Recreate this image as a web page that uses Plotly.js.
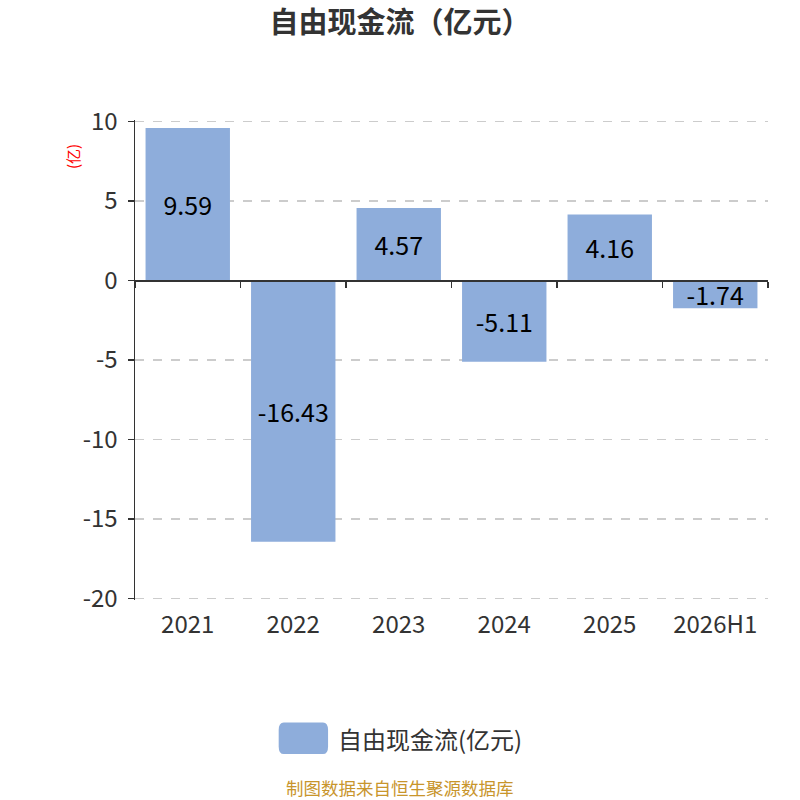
<!DOCTYPE html>
<html>
<head>
<meta charset="utf-8">
<script src="https://cdn.plot.ly/plotly-3.0.1.min.js"></script>
<style>
  html, body { margin: 0; padding: 0; background: white; }
  #chart { width: 800px; height: 800px; }
</style>
</head>
<body>
<div id="chart"></div>
<script>
// data
const categories = ['2021', '2022', '2023', '2024', '2025', '2026H1'];
const freeCashFlow = [9.59, -16.43, 4.57, -5.11, 4.16, -1.74];
const seriesName = '自由现金流(亿元)';
const yTickVals = [-20, -15, -10, -5, 0, 5, 10];
const yTickText = ['-20', '-15', '-10', '-5', '0', '5', '10'];

const barColor = '#8eaddb';
const textColor = '#333333';
const baseFont = '"Noto Sans CJK SC", "Noto Sans", sans-serif';

const bars = {
    x: categories,
    y: freeCashFlow,
    type: 'bar',
    name: seriesName,
    marker: { color: barColor, line: { width: 0 } },
    text: freeCashFlow.map(v => v.toFixed(2)),
    textposition: 'inside',
    insidetextanchor: 'middle',
    constraintext: 'none',
    textfont: { size: 25, color: '#000000', family: baseFont },
    cliponaxis: false,
    showlegend: false,
    hoverinfo: 'x+y'
};

// same bars again on a second x axis that sits on the zero line (for its ticks)
const zeroAxisBars = {
    x: categories,
    y: freeCashFlow,
    type: 'bar',
    xaxis: 'x2',
    marker: { color: 'rgba(0,0,0,0)' },
    showlegend: false,
    hoverinfo: 'skip'
};

const layout = {
    width: 800,
    height: 800,
    paper_bgcolor: 'white',
    plot_bgcolor: 'white',
    margin: { t: 120, b: 200, l: 135, r: 32 },
    font: { family: baseFont, color: textColor },
    bargap: 0.2,
    showlegend: false,
    title: {
        text: '<b>自由现金流（亿元）</b>',
        x: 0.5, xref: 'container', xanchor: 'center',
        y: 1 - 23 / 800, yref: 'container', yanchor: 'middle',
        font: { size: 29, color: textColor, family: baseFont }
    },
    xaxis: {
        type: 'category',
        range: [-0.5, 5.5],
        showline: false,
        showgrid: false,
        zeroline: false,
        ticks: '',
        ticklabelstandoff: 8,
        tickfont: { size: 24, color: textColor },
        fixedrange: true
    },
    xaxis2: {
        type: 'category',
        overlaying: 'x',
        matches: 'x',
        anchor: 'free',
        position: 2 / 3,
        side: 'bottom',
        showline: true,
        linecolor: textColor,
        linewidth: 1.5,
        ticks: 'outside',
        tickson: 'boundaries',
        ticklen: 6,
        tickwidth: 1.5,
        tickcolor: textColor,
        showticklabels: false,
        showgrid: false,
        zeroline: false,
        fixedrange: true
    },
    yaxis: {
        range: [-20.1, 10.1],
        tickmode: 'array',
        tickvals: yTickVals,
        ticktext: yTickText,
        showline: true,
        linecolor: textColor,
        linewidth: 1.5,
        ticks: 'outside',
        ticklen: 6,
        tickwidth: 1.5,
        tickcolor: textColor,
        ticklabelstandoff: 5,
        tickfont: { size: 24, color: textColor },
        showgrid: true,
        gridcolor: '#cccccc',
        gridwidth: 1.2,
        griddash: 'dash',
        zeroline: false,
        fixedrange: true
    },
    shapes: [
        // legend swatch
        {
            type: 'path', xref: 'paper', yref: 'paper', layer: 'above',
            path: 'M 0.2350,-0.2550 L 0.2970,-0.2550 Q 0.3050,-0.2550 0.3050,-0.2710 L 0.3050,-0.3050 Q 0.3050,-0.3210 0.2970,-0.3210 L 0.2350,-0.3210 Q 0.2270,-0.3210 0.2270,-0.3050 L 0.2270,-0.2710 Q 0.2270,-0.2550 0.2350,-0.2550 Z',
            fillcolor: barColor, line: { width: 0 }
        }
    ],
    annotations: [
        {
            text: '(亿)', xref: 'paper', yref: 'paper',
            x: (73 - 135) / 633, y: 0.923, xanchor: 'center', yanchor: 'middle',
            textangle: -90, showarrow: false,
            font: { size: 15, color: '#ff0000' }
        },
        {
            text: seriesName, xref: 'paper', yref: 'paper',
            x: 0.318, y: -0.2875, xanchor: 'left', yanchor: 'middle', showarrow: false,
            font: { size: 24, color: textColor }
        },
        {
            text: '制图数据来自恒生聚源数据库', xref: 'paper', yref: 'paper',
            x: (400 - 135) / 633, y: (600 - 787) / 480, xanchor: 'center', yanchor: 'middle', showarrow: false,
            borderpad: 0,
            font: { size: 17.5, color: '#c8952c' }
        }
    ]
};

Plotly.newPlot('chart', [bars, zeroAxisBars], layout, { displayModeBar: false, staticPlot: true });
</script>
</body>
</html>
